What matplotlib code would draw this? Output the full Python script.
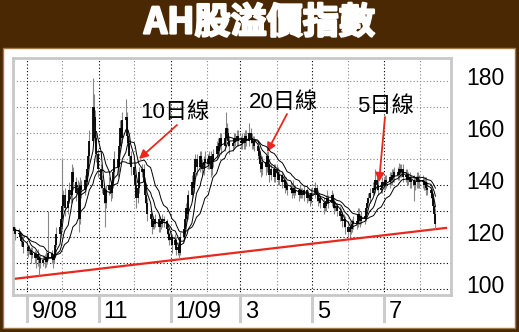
import numpy as np
import pandas as pd
import matplotlib
matplotlib.use("Agg")
import matplotlib.pyplot as plt
import matplotlib.dates as mdates
import matplotlib.patheffects as pe
from matplotlib.patches import Rectangle
from matplotlib.lines import Line2D
import matplotlib.transforms as mtrans

# daily closes of the AH premium index, month by month
close_aug08 = [122.5, 124, 123, 121, 121.5, 120, 118.5, 118, 116]
close_sep08 = [116, 114.5, 115, 113, 114, 112, 113.5, 111, 112, 110, 111, 112.5, 110.5, 112, 114, 112, 111, 113, 117, 121, 124, 127]
close_oct08 = [132, 136, 131, 134, 138, 136, 145, 141, 137, 139, 127, 140, 138, 142, 141, 146, 151, 157, 170, 166, 158, 152, 146]
close_nov08 = [142, 139, 136, 133, 138, 140, 137, 141, 145, 150, 147, 155, 162, 158, 165, 166, 159, 156, 151, 147]
close_dec08 = [144, 140, 135, 139, 145, 146, 141, 136, 133, 129, 127, 124, 126, 125, 127, 124, 126, 125, 127, 126, 123, 121, 119]
close_jan09 = [120, 117, 119, 115, 116, 114, 120, 123, 127, 131, 129, 136, 141, 139, 145, 150, 147, 151, 148, 146, 149, 150]
close_feb09 = [148, 151, 146, 149, 152, 155, 153, 156, 158, 155, 158, 162, 160, 157, 155, 156, 158, 157, 159, 157]
close_mar09 = [156, 158, 156, 159, 157, 160, 158, 156, 157, 155, 153, 151, 148, 146, 149, 147, 151, 148, 144, 146, 143, 146]
close_apr09 = [145, 142, 144, 141, 142, 139, 140, 138, 139, 137, 139, 137, 138, 136, 138, 137, 136, 138, 135, 136, 134, 137]
close_may09 = [137, 139, 136, 134, 135, 133, 131, 132, 134, 135, 133, 136, 133, 131, 132, 130, 128, 129, 126, 127, 124]
close_jun09 = [122, 124, 123, 125, 126, 125, 129, 127, 126, 128, 127, 131, 133, 135, 137, 139, 138, 142, 140, 138, 139, 141]
close_jul09 = [140, 142, 141, 143, 142, 144, 143, 145, 144, 146, 145, 146, 143, 144, 142, 143, 141, 142, 140, 141, 143, 141, 142]
close_aug09 = [141, 140, 141, 139, 138, 137, 135, 132, 129, 125]

# how far each day's high / low reach beyond the bar body
up = ([2, 3, 1, 1, 2, 1, 1, 1, 2]
      + [2, 1, 2, 1, 2, 1, 1, 2, 1, 1, 2, 1, 2, 1, 16, 1, 1, 2, 2, 3, 2, 3]
      + [18, 2, 3, 2, 3, 2, 3, 2, 2, 3, 2, 3, 2, 2, 3, 2, 3, 4, 11, 5, 3, 2, 2]
      + [2, 2, 1, 2, 2, 3, 2, 2, 2, 3, 2, 3, 3, 2, 3, 7, 2, 2, 2, 2]
      + [2, 2, 2, 3, 2, 2, 2, 2, 2, 2, 2, 2, 2, 1, 2, 2, 2, 1, 2, 1, 1, 2, 1]
      + [2, 1, 2, 1, 2, 2, 2, 2, 3, 2, 3, 2, 3, 2, 3, 2, 2, 2, 2, 2, 2, 3]
      + [2, 2, 2, 2, 2, 2, 3, 2, 2, 2, 3, 6, 2, 2, 2, 2, 2, 2, 2, 2]
      + [2, 2, 2, 2, 2, 4, 2, 2, 2, 2, 2, 2, 2, 2, 2, 2, 2, 2, 2, 2, 2, 2]
      + [2, 2, 2, 1, 2, 1, 2, 1, 2, 1, 3, 1, 2, 1, 2, 1, 2, 2, 1, 2, 1, 2]
      + [2, 2, 1, 2, 2, 1, 2, 2, 2, 3, 1, 2, 1, 2, 2, 1, 2, 2, 1, 2, 1]
      + [2, 2, 2, 2, 2, 3, 2, 2, 2, 2, 2, 2, 2, 2, 2, 2, 2, 4, 2, 2, 2, 2]
      + [2, 2, 2, 2, 2, 2, 2, 2, 2, 2.5, 2, 2, 2, 2, 2, 2, 2, 2, 2, 2, 2, 2, 2]
      + [2, 2, 2, 2, 2, 2, 2, 2, 2, 2])
dn = ([2, 1, 1, 2, 1, 1, 2, 1, 2]
      + [2, 2, 1, 3, 1, 2, 4, 2, 6, 2, 1, 3, 2, 1, 1, 2, 3, 1, 1, 1, 2, 1]
      + [1, 2, 3, 2, 1, 3, 2, 3, 3, 2, 5, 2, 3, 2, 2, 1, 2, 2, 1, 3, 4, 3, 3]
      + [3, 2, 3, 9, 2, 2, 3, 2, 2, 2, 4, 2, 2, 3, 2, 2, 3, 2, 3, 3]
      + [2, 3, 4, 2, 2, 2, 3, 3, 2, 3, 2, 3, 1, 2, 1, 2, 2, 2, 1, 2, 2, 2, 2]
      + [2, 3, 1, 2, 2, 2, 1, 2, 2, 2, 3, 2, 2, 3, 2, 2, 3, 2, 2, 2, 2, 2]
      + [2, 2, 3, 2, 2, 2, 2, 2, 2, 3, 2, 2, 2, 2, 3, 2, 2, 2, 2, 2]
      + [2, 2, 2, 2, 2, 2, 2, 2, 2, 2, 3, 2, 3, 3, 2, 3, 2, 2, 3, 2, 2, 2]
      + [2, 2, 2, 2, 1, 2, 1, 2, 1, 2, 1, 2, 1, 2, 1, 2, 1, 2, 2, 1, 2, 1]
      + [1, 2, 2, 2, 1, 2, 2, 1, 2, 1, 2, 1, 2, 2, 1, 2, 2, 1, 2, 2, 3]
      + [2, 2, 2, 1, 2, 2, 1, 2, 2, 1, 2, 1, 2, 1, 2, 1, 2, 1, 2, 2, 1, 2]
      + [2, 2, 2, 2, 2, 2, 2, 2, 2, 2, 2, 2, 2, 2, 2, 2, 2, 2, 6, 2, 2, 2, 2]
      + [2, 2, 2, 3, 2, 2, 2, 2, 2, 2])

month_ticks = ["2008-09-01", "2008-11-01", "2009-01-01", "2009-03-01", "2009-05-01", "2009-07-01"]
month_labels = ["9/08", "11", "1/09", "3", "5", "7"]
y_ticks = [100, 120, 140, 160, 180]
trend_dates = ["2008-08-19", "2009-08-23"]
trend_vals = [103.8, 123.5]

close = np.array(close_aug08 + close_sep08 + close_oct08 + close_nov08 + close_dec08
                 + close_jan09 + close_feb09 + close_mar09 + close_apr09 + close_may09
                 + close_jun09 + close_jul09 + close_aug09, dtype=float)
dates = pd.bdate_range("2008-08-19", "2009-08-14")
assert len(dates) == len(close) == len(up) == len(dn)

s = pd.Series(close, index=dates)
opn = s.shift(1).fillna(s.iloc[0])
high = np.maximum(opn, s) + np.array(up)
low = np.minimum(opn, s) - np.array(dn)
xd = mdates.date2num(dates.to_pydatetime())

brown = "#4a2804"
red = "#e8281e"
W, H = 519, 332
fig = plt.figure(figsize=(W / 100, H / 100), dpi=100, facecolor=brown)
fig.patches.append(Rectangle((3 / W, 4 / H), 512 / W, 280 / H, transform=fig.transFigure,
                             facecolor="white", edgecolor="#9c7a4c", lw=1, zorder=-5))
fig.text(259.5 / W, 1 - 23 / H, "AH股溢價指數", color="white", fontsize=26, fontweight="bold",
         family=["Noto Sans CJK TC", "DejaVu Sans"], ha="center", va="center",
         path_effects=[pe.withStroke(linewidth=1.6, foreground="white")])

ax = fig.add_axes([13 / W, (H - 295) / H, 438 / W, 237 / H])
ax.set_facecolor("white")

sep1 = mdates.date2num(pd.Timestamp("2008-09-01").to_pydatetime())
ax.set_xlim(sep1 - 11.9, sep1 + 360.2)
ax.set_ylim(97.7, 188.85)

# grid
for v in range(100, 190, 10):
    ax.axhline(v, color="black" if v <= 140 else "#888888", lw=0.8, ls=(0, (1, 2)), zorder=0)
for m in pd.date_range("2008-09-01", "2009-08-01", freq="MS"):
    ax.axvline(mdates.date2num(m.to_pydatetime()), color="black" if m.month % 2 == 1 else "#888888",
               lw=0.8, ls=(0, (1, 2)), zorder=0)

td = mdates.date2num(pd.to_datetime(trend_dates).to_pydatetime())
ax.plot(td, trend_vals, color=red, lw=1.6, zorder=1)

ax.vlines(xd, low, high, color="#888888", lw=0.8, zorder=2)
ax.vlines(xd, opn.values, s.values, color="black", lw=1.3, zorder=3)
for n in (5, 10, 20):
    ax.plot(xd, s.rolling(n, min_periods=1).mean().values, color="black", lw=0.7, zorder=4)

for sp in ax.spines.values():
    sp.set_color("#c8c8c8")
    sp.set_linewidth(2)
ax.set_xticks([])
ax.set_yticks([])

lab_font = ["Liberation Sans", "DejaVu Sans"]
for v in y_ticks:
    ax.annotate(str(v), xy=(1, v), xycoords=("axes fraction", "data"), xytext=(11, 2),
                textcoords="offset points", ha="left", va="center", fontsize=16.5, family=lab_font)

blend = mtrans.blended_transform_factory(ax.transData, ax.transAxes)
for d, lab in zip(month_ticks, month_labels):
    d = mdates.date2num(pd.Timestamp(d).to_pydatetime())
    ax.add_line(Line2D([d, d], [0, -26 / 237], transform=blend, color="#cccccc", lw=2.2, clip_on=False))
    ax.annotate(lab, xy=(d, 0), xycoords=blend, xytext=(3.5, -12), textcoords="offset points",
                ha="left", va="center", fontsize=17, family=lab_font)

# annotations (figure pixel positions)
note_font = ["Liberation Sans", "Noto Sans CJK TC"]
notes = [("10日線", (175, 112), (177, 125), (139, 159)),
         ("20日線", (283, 102), (287, 114), (267, 152)),
         ("5日線", (386, 106), (385, 117), (379, 182))]
for txt, tpos, a0, a1 in notes:
    fig.text(tpos[0] / W, 1 - tpos[1] / H, txt, fontsize=16, family=note_font, ha="center", va="center")
    ax.annotate("", xy=(a1[0], H - a1[1]), xycoords="figure pixels",
                xytext=(a0[0], H - a0[1]), textcoords="figure pixels",
                arrowprops=dict(arrowstyle="-|>", color=red, lw=1.3, mutation_scale=13, shrinkA=0, shrinkB=0))

fig.savefig("out.png", dpi=100, facecolor=brown)
